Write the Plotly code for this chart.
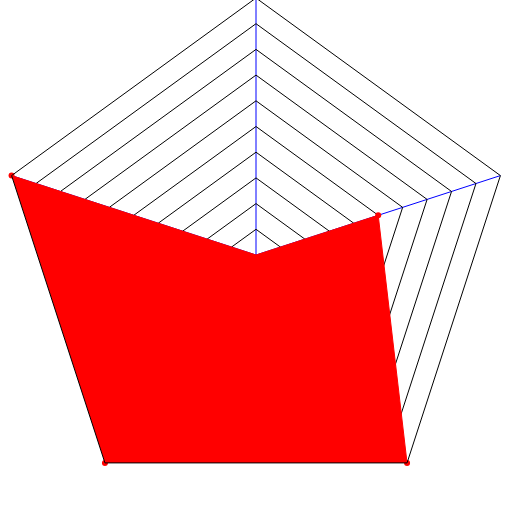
import plotly.graph_objects as go

categories = ["A", "B", "C", "D", "E"]
values = [0, 5, 10, 10, 10]
radial_max = 10

theta = categories + [categories[0]]
r = values + [values[0]]

fig = go.Figure()
fig.add_trace(go.Scatterpolar(
    r=r, theta=theta, mode="lines+markers", fill="toself",
    fillcolor="red", line=dict(color="red", width=1),
    marker=dict(color="red", size=6), showlegend=False,
))
fig.update_layout(
    width=514, height=514,
    margin=dict(l=0, r=0, t=0, b=0),
    paper_bgcolor="white",
    polar=dict(
        bgcolor="white",
        gridshape="linear",
        radialaxis=dict(range=[0, radial_max], dtick=1, showticklabels=False,
                        ticks="", showline=False, gridcolor="black", gridwidth=1),
        angularaxis=dict(rotation=90, direction="clockwise", showticklabels=False,
                         ticks="", showline=True, linecolor="black", linewidth=1,
                         gridcolor="blue", gridwidth=1),
    ),
)
fig.write_html("out.html", config={"displayModeBar": False},
               post_script="document.body.style.margin='-2px 0 0 -1px';document.body.style.overflow='hidden';")
